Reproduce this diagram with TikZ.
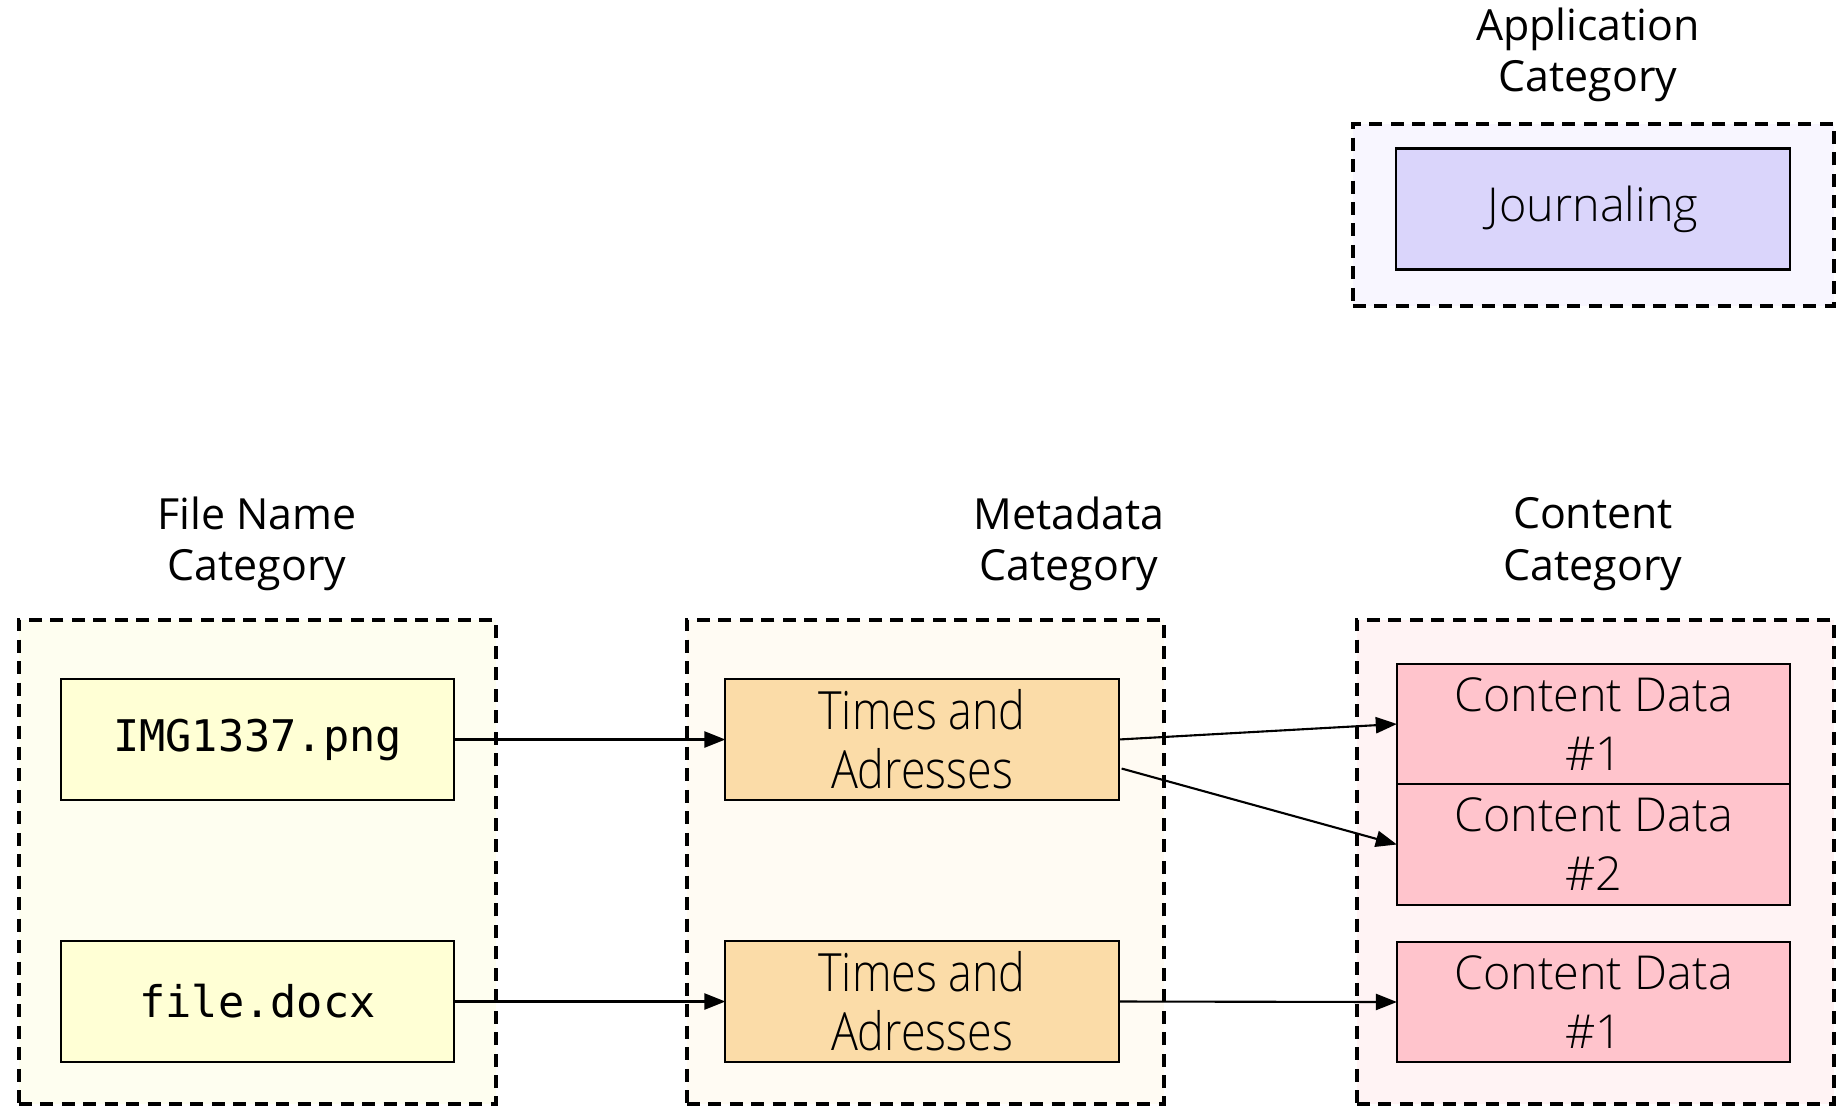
\documentclass[tikz,border=0pt]{standalone}
\usepackage{fontspec}
\usepackage{graphicx}
\usetikzlibrary{arrows.meta,calc}
\setmainfont{Open Sans}
\newfontfamily\monofont{DejaVu Sans Mono}
\IfFontExistsTF{Open Sans Light}
  {\newfontfamily\lightfont{Open Sans Light}}
  {\newfontfamily\lightfont{Open Sans}}

\definecolor{appouter}{HTML}{F8F6FF}
\definecolor{appinner}{HTML}{DAD5FB}
\definecolor{fnouter}{HTML}{FEFEF0}
\definecolor{fninner}{HTML}{FFFFD5}
\definecolor{mdouter}{HTML}{FFFBF3}
\definecolor{mdinner}{HTML}{FBDCA8}
\definecolor{ctouter}{HTML}{FFF3F4}
\definecolor{ctinner}{HTML}{FFC4CC}

\newcommand{\narrow}[1]{\scalebox{0.85}[1]{#1}}

\tikzset{
  cluster/.style={draw=black, line width=1.1pt, dash pattern=on 3.7pt off 2.4pt,
    inner sep=0pt, outer sep=0pt},
  item/.style={draw=black, line width=0.6pt, inner sep=0pt, outer sep=0pt,
    minimum width=3.93cm, minimum height=1.21cm, align=center},
  heading/.style={align=center, font=\fontsize{12.2}{14.6}\selectfont},
  lighttext/.style={font=\lightfont\fontsize{13.3}{16.8}\selectfont},
  narrowtext/.style={font=\lightfont\fontsize{15}{16.8}\selectfont},
  codetext/.style={font=\monofont\fontsize{12.4}{15}\selectfont},
  flow/.style={line width=0.6pt, -{Triangle[length=6pt,width=4.6pt]}}
}

\begin{document}
\begin{tikzpicture}[x=0.01cm, y=-0.01cm]
\useasboundingbox (0,0) rectangle (1848,1105);

% category frames
\node[cluster, fill=appouter, minimum width=4.81cm, minimum height=1.82cm] (appbox) at (1593.5,215) {};
\node[cluster, fill=fnouter, minimum width=4.77cm, minimum height=4.84cm] (fnbox) at (257.5,862) {};
\node[cluster, fill=mdouter, minimum width=4.77cm, minimum height=4.84cm] (mdbox) at (925.5,862) {};
\node[cluster, fill=ctouter, minimum width=4.77cm, minimum height=4.84cm] (ctbox) at (1595.5,862) {};

% category headings
\node[heading] (applabel) at (1588,55) {Application\\Category};
\node[heading] (fnlabel) at (257,544) {File Name\\Category};
\node[heading] (mdlabel) at (1069,544) {Metadata\\Category};
\node[heading] (ctlabel) at (1593,544) {Content\\Category};

% entries
\node[item, fill=appinner, lighttext] (journal) at (1593,209) {Journaling};

\node[item, fill=fninner, codetext] (img) at (257.5,739.5) {IMG1337.png};
\node[item, fill=fninner, codetext] (docx) at (257.5,1001.5) {file.docx};

\node[item, fill=mdinner, narrowtext] (t1) at (922,739.5) {\narrow{Times and}\\\narrow{Adresses}};
\node[item, fill=mdinner, narrowtext] (t2) at (922,1001.5) {\narrow{Times and}\\\narrow{Adresses}};

\node[item, fill=ctinner, lighttext, minimum height=1.20cm] (cd1) at (1593.5,724) {Content Data\\\#1};
\node[item, fill=ctinner, lighttext, minimum height=1.21cm] (cd2) at (1593.5,844.5) {Content Data\\\#2};
\node[item, fill=ctinner, lighttext, minimum height=1.20cm] (cd3) at (1593.5,1002) {Content Data\\\#1};

% connectors
\draw[flow] (img.east) -- (t1.west);
\draw[flow] (docx.east) -- (t2.west);
\draw[flow] (t1.east) -- (cd1.west);
\draw[flow] ([xshift=0.03cm, yshift=-0.29cm]t1.east) -- (cd2.west);
\draw[flow] (t2.east) -- (cd3.west);
\end{tikzpicture}
\end{document}
